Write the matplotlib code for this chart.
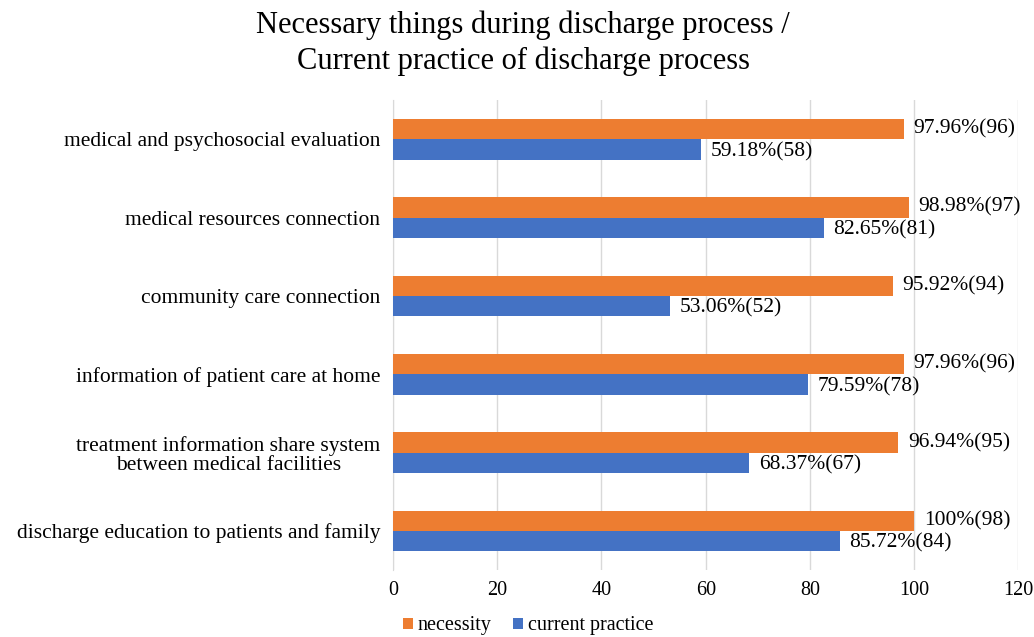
import matplotlib.pyplot as plt
import numpy as np

categories = ["medical and psychosocial evaluation",
              "medical resources connection",
              "community care connection",
              "information of patient care at home",
              "treatment information share system\nbetween medical facilities",
              "discharge education to patients and family"]
necessity = [97.96, 98.98, 95.92, 97.96, 96.94, 100]
necessity_n = [96, 97, 94, 96, 95, 98]
current = [59.18, 82.65, 53.06, 79.59, 68.37, 85.72]
current_n = [58, 81, 52, 78, 67, 84]

orange = "#ED7D31"
blue = "#4472C4"
serif = "Liberation Serif"

fig = plt.figure(figsize=(10.34, 6.37), dpi=100)
ax = fig.add_axes([0.380, 0.105, 0.605, 0.738])

y = np.arange(len(categories))
h = 0.26
ax.barh(y - h / 2, necessity, height=h, color=orange, label="necessity", zorder=3)
ax.barh(y + h / 2, current, height=h, color=blue, label="current practice", zorder=3)

# value labels, offset a few points right of the bar end
for i in range(len(categories)):
    pct = "100%" if necessity[i] == 100 else "%.2f%%" % necessity[i]
    ax.annotate("%s(%d)" % (pct, necessity_n[i]), (necessity[i], y[i] - h / 2),
                xytext=(7, 0), textcoords="offset points",
                va="center", ha="left", fontsize=15.5, family=serif)
    ax.annotate("%.2f%%(%d)" % (current[i], current_n[i]), (current[i], y[i] + h / 2),
                xytext=(7, -1.5), textcoords="offset points",
                va="center", ha="left", fontsize=15.5, family=serif)

ax.set_xlim(0, 120)
ax.set_ylim(-0.5, 5.5)
ax.invert_yaxis()
ax.set_xticks(range(0, 121, 20))
ax.set_yticks(y)
ax.set_yticklabels(categories, family=serif, fontsize=15.5, ha="right",
                   multialignment="center", linespacing=1.05)
ax.tick_params(axis="y", length=0, pad=9)
ax.tick_params(axis="x", length=0, pad=8, labelsize=14.5)
for lab in ax.get_xticklabels():
    lab.set_family(serif)
ax.grid(axis="x", color="#D9D9D9", linewidth=1, zorder=0)
for s in ["top", "right", "bottom"]:
    ax.spines[s].set_visible(False)
ax.spines["left"].set_color("#D9D9D9")

fig.suptitle("Necessary things during discharge process /\nCurrent practice of discharge process",
             family=serif, fontsize=22, x=0.506, y=0.984, linespacing=1.3)

fig.legend(loc="lower left", bbox_to_anchor=(0.372, -0.026), ncol=2, frameon=False,
           handlelength=0.5, handleheight=0.5, handletextpad=0.25, columnspacing=1.05,
           prop={"family": serif, "size": 14.5})

fig.savefig("out.png", dpi=100)
